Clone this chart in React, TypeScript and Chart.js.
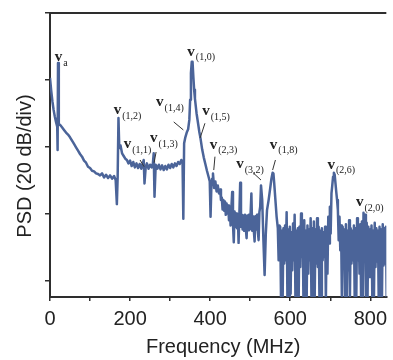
import React, { useEffect, useRef } from 'react';
import { Chart, registerables } from 'chart.js';

Chart.register(...registerables);

// Frequency (MHz) of every sample of the spectrum
const freqMHz = [
  0, 3, 6, 9, 12, 15, 18, 19, 20, 22,
  26, 30, 35, 40, 45, 50, 55, 60, 65, 70,
  75, 80, 85, 90, 95, 100, 105, 110, 115, 120,
  125, 130, 135, 140, 145, 150, 155, 160, 164, 167,
  169, 171, 173, 176, 180, 184, 188, 192, 196, 200,
  204, 208, 212, 216, 220, 224, 228, 231, 234, 236,
  239, 242, 246, 250, 254, 257, 259, 261, 264, 268,
  272, 276, 280, 284, 288, 292, 296, 300, 304, 308,
  312, 316, 320, 324, 328, 331, 333, 335, 338, 342,
  345, 348, 350, 352, 354, 356, 358, 360, 362, 366,
  369, 373, 376, 380, 384, 388, 392, 396, 399, 401,
  403, 405, 407, 410, 413, 416, 419, 422, 425, 427,
  429, 431, 433, 435, 437, 439, 441, 443, 445, 447,
  449, 451, 453, 455, 457, 459, 461, 463, 465, 467,
  469, 471, 473, 475, 477, 479, 481, 483, 485, 487,
  489, 491, 493, 495, 497, 499, 501, 503, 505, 507,
  509, 511, 513, 515, 517, 519, 521, 523, 525, 527,
  530, 533, 536, 539, 542, 546, 550, 553, 556, 558,
  560, 563, 566, 569, 571, 573,
  575, 577, 579, 581, 583, 585, 587, 589, 591, 593,
  595, 597, 599, 601, 603, 605, 607, 609, 611, 613,
  615, 617, 619, 621, 623, 625, 627, 629, 631, 633,
  635, 637, 639, 641, 643, 645, 647, 649, 651, 653,
  655, 657, 659, 661, 663, 665, 667, 669, 671, 673,
  675, 677, 679, 681, 683, 685, 687, 689, 691, 693,
  695, 697, 699, 701, 703, 705, 707, 709, 711, 713,
  715, 717, 719, 721, 723, 725, 727, 729, 731, 733,
  735, 737, 739, 741, 743, 745, 747, 749, 751, 753,
  755, 757, 759, 761, 763, 765, 767, 769, 771, 773,
  775, 777, 779, 781, 783, 785, 787, 789, 791, 793,
  795, 797, 799, 801, 803, 805, 807, 809, 811, 813,
  815, 817, 819, 821, 823, 825, 827, 829, 831, 833,
  835, 837, 839, 841,
];

// PSD in divisions (1 div = 20 dB)
const psdDiv = [
  3.03, 2.84, 2.68, 2.55, 2.45, 2.37, 2.30, 1.95, 3.25, 2.34,
  2.32, 2.29, 2.25, 2.21, 2.18, 2.14, 2.09, 2.04, 1.99, 1.94,
  1.89, 1.85, 1.79, 1.76, 1.70, 1.68, 1.64, 1.63, 1.60, 1.59,
  1.57, 1.60, 1.54, 1.58, 1.53, 1.57, 1.52, 1.56, 1.50, 1.14,
  1.55, 2.43, 1.98, 2.02, 1.90, 1.86, 1.82, 1.80, 1.75, 1.79,
  1.71, 1.77, 1.69, 1.75, 1.68, 1.74, 1.67, 1.73, 1.80, 1.45,
  1.69, 1.75, 1.67, 1.73, 1.69, 1.75, 1.90, 1.25, 1.73, 1.67,
  1.73, 1.66, 1.72, 1.65, 1.71, 1.66, 1.73, 1.68, 1.74, 1.69,
  1.75, 1.71, 1.77, 1.74, 1.80, 1.78, 0.92, 2.05, 2.14, 2.22,
  2.26, 2.40, 2.70, 3.10, 3.27, 3.27, 3.05, 2.85, 2.72, 2.50,
  2.38, 2.22, 2.12, 1.96, 1.84, 1.74, 1.64, 1.55, 1.48, 0.95,
  1.40, 1.52, 1.60, 1.38, 1.48, 1.33, 1.42, 1.30, 1.36, 1.20,
  1.24, 1.06, 1.20, 1.04, 1.18, 0.98, 1.15, 1.00, 1.12, 0.90,
  1.10, 0.82, 1.08, 1.32, 0.84, 0.57, 1.03, 0.80, 1.00, 0.78,
  0.98, 0.56, 1.00, 1.46, 0.80, 0.98, 0.76, 0.97, 0.74, 0.98,
  0.78, 0.63, 0.97, 0.75, 0.98, 0.76, 1.00, 1.30, 0.74, 0.96,
  0.75, 0.58, 0.96, 0.76, 0.98, 0.74, 0.60, 1.02, 1.10, 1.42,
  1.20, 0.60, 0.08, 0.70, 1.05, 1.20, 1.38, 1.52, 1.61, 1.60,
  1.45, 1.20, 0.95, 0.78, 0.30, 0.82,
  0.80, -0.30, 0.74, -0.30, 0.78, 0.25, 0.82, 0.30, 1.02, -0.30,
  0.76, -0.30, 0.80, -0.20, 0.72, 0.15, 0.85, 0.30, 0.98, -0.30,
  0.74, -0.30, 0.78, -0.30, 0.80, 0.20, 1.00, 0.35, 0.76, -0.30,
  0.90, -0.25, 0.74, -0.30, 0.82, 0.10, 0.76, 0.30, 0.93, -0.30,
  0.78, -0.30, 0.88, -0.30, 0.76, 0.25, 0.93, 0.20, 0.80, -0.30,
  0.74, -0.30, 0.78, 0.30, 0.72, 0.35, 0.80, -0.30, 0.78, 0.10,
  0.95, 0.55, 1.10, 0.70, 1.30, 1.42, 1.55, 1.61, 1.58, 1.45,
  1.32, 1.20, 1.05, 0.60, 0.95, 0.45, 0.82, -0.30, 0.80, 0.22,
  0.76, -0.30, 0.84, -0.30, 0.74, 0.15, 0.90, -0.30, 0.78, 0.25,
  0.74, 0.30, 0.82, -0.30, 0.78, -0.30, 0.93, 0.30, 0.80, 0.10,
  0.84, -0.30, 0.88, -0.30, 1.01, 0.40, 0.98, -0.30, 0.86, -0.30,
  0.80, 0.05, 0.76, 0.30, 0.82, -0.30, 0.74, -0.30, 0.86, 0.20,
  0.78, 0.28, 0.74, -0.30, 0.80, -0.30, 0.76, -0.30, 0.84, 0.22,
  0.78, 0.25, 0.80, -0.30,
];

const xTickValues = [0, 200, 400, 600, 800];

// Mode labels (subscripts of ν), with their anchor in data units
const modeLabels = ['a', '(1,2)', '(1,1)', '(1,3)', '(1,4)', '(1,0)', '(1,5)', '(2,3)', '(3,2)', '(1,8)', '(2,6)', '(2,0)'];
const modeFreq = [12, 159, 184, 250, 265, 343, 380, 399, 465, 549, 693, 764];
const modePsd = [3.34, 2.55, 2.04, 2.13, 2.67, 3.42, 2.53, 2.03, 1.74, 2.03, 1.73, 1.17];

// Leader lines from label to peak
const leaderFreqFrom = [225, 265, 309, 387, 412, 507, 563];
const leaderPsdFrom = [1.80, 1.92, 2.37, 2.35, 1.85, 1.61, 1.80];
const leaderFreqTo = [235, 260, 333, 375, 409, 527, 556];
const leaderPsdTo = [1.70, 1.76, 2.25, 2.13, 1.65, 1.50, 1.65];

const TEXT = '#222222';
const AXIS = '#2e2e2e';
const LINE = '#4b6499';

const decorPlugin = {
  id: 'decor',
  afterDatasetsDraw(chart: any) {
    const { ctx, chartArea, scales } = chart;
    const x = scales.x;
    const y = scales.y;
    ctx.save();
    // top frame line
    ctx.strokeStyle = AXIS;
    ctx.lineWidth = 2;
    ctx.beginPath();
    ctx.moveTo(chartArea.left, chartArea.top);
    ctx.lineTo(chartArea.right, chartArea.top);
    ctx.stroke();

    // leader lines
    ctx.strokeStyle = '#333333';
    ctx.lineWidth = 1;
    for (let i = 0; i < leaderFreqFrom.length; i++) {
      ctx.beginPath();
      ctx.moveTo(x.getPixelForValue(leaderFreqFrom[i]), y.getPixelForValue(leaderPsdFrom[i]));
      ctx.lineTo(x.getPixelForValue(leaderFreqTo[i]), y.getPixelForValue(leaderPsdTo[i]));
      ctx.stroke();
    }

    // labels
    ctx.fillStyle = TEXT;
    ctx.textAlign = 'left';
    ctx.textBaseline = 'middle';
    for (let i = 0; i < modeLabels.length; i++) {
      const px = x.getPixelForValue(modeFreq[i]);
      const py = y.getPixelForValue(modePsd[i]);
      ctx.font = 'bold 15px "Liberation Serif"';
      ctx.fillText('v', px, py);
      const w = ctx.measureText('v').width;
      ctx.font = '10px "Liberation Serif"';
      ctx.fillText(modeLabels[i], px + w + 1, py + 6);
    }
    ctx.restore();
  },
  afterDraw(chart: any) {
    const { ctx, chartArea } = chart;
    ctx.save();
    ctx.fillStyle = TEXT;
    ctx.font = '20px "Liberation Sans"';
    ctx.textAlign = 'center';
    ctx.textBaseline = 'middle';
    ctx.fillText('Frequency (MHz)', (chartArea.left + chartArea.right) / 2 + 5, chartArea.bottom + 50);
    ctx.translate(chartArea.left - 25, (chartArea.top + chartArea.bottom) / 2 + 11);
    ctx.rotate(-Math.PI / 2);
    ctx.fillText('PSD (20 dB/div)', 0, 0);
    ctx.restore();
  },
};

export default function App() {
  const canvasRef = useRef<HTMLCanvasElement | null>(null);

  useEffect(() => {
    if (!canvasRef.current) return;
    const points = freqMHz.map((f, i) => ({ x: f, y: psdDiv[i] }));
    const chart = new Chart(canvasRef.current, {
      type: 'line',
      data: {
        datasets: [
          {
            data: points,
            borderColor: LINE,
            borderWidth: 2.5,
            borderJoinStyle: 'round',
            pointRadius: 0,
            tension: 0,
            fill: false,
          },
        ],
      },
      options: {
        animation: false,
        responsive: true,
        maintainAspectRatio: false,
        layout: { padding: { top: 13, right: 0, bottom: 0, left: 0 } },
        plugins: {
          legend: { display: false },
          tooltip: { enabled: false },
        },
        scales: {
          x: {
            type: 'linear',
            min: 0,
            max: 840,
            afterFit: (s: any) => {
              s.height = 63;
            },
            ticks: {
              stepSize: 100,
              includeBounds: false,
              autoSkip: false,
              maxRotation: 0,
              padding: 6,
              color: TEXT,
              font: { family: '"Liberation Sans"', size: 20 },
              callback: (v: any) => (xTickValues.includes(Number(v)) ? String(v) : ''),
            },
            grid: {
              display: true,
              drawOnChartArea: false,
              drawTicks: true,
              tickLength: 4,
              color: AXIS,
              lineWidth: 1.5,
            },
            border: { display: true, color: AXIS, width: 2 },
            title: { display: false },
          },
          y: {
            type: 'linear',
            min: -0.25,
            max: 4,
            afterFit: (s: any) => {
              s.width = 50;
            },
            ticks: {
              stepSize: 1,
              includeBounds: false,
              callback: () => '',
            },
            grid: {
              display: true,
              drawOnChartArea: false,
              drawTicks: true,
              tickLength: 5,
              color: AXIS,
              lineWidth: 1.5,
            },
            border: { display: true, color: AXIS, width: 2 },
            title: { display: false },
          },
        },
      },
      plugins: [decorPlugin],
    });
    return () => chart.destroy();
  }, []);

  return (
    <div style={{ position: 'absolute', left: 0, top: 0, width: 393, height: 360, background: '#ffffff' }}>
      <canvas ref={canvasRef} />
    </div>
  );
}
